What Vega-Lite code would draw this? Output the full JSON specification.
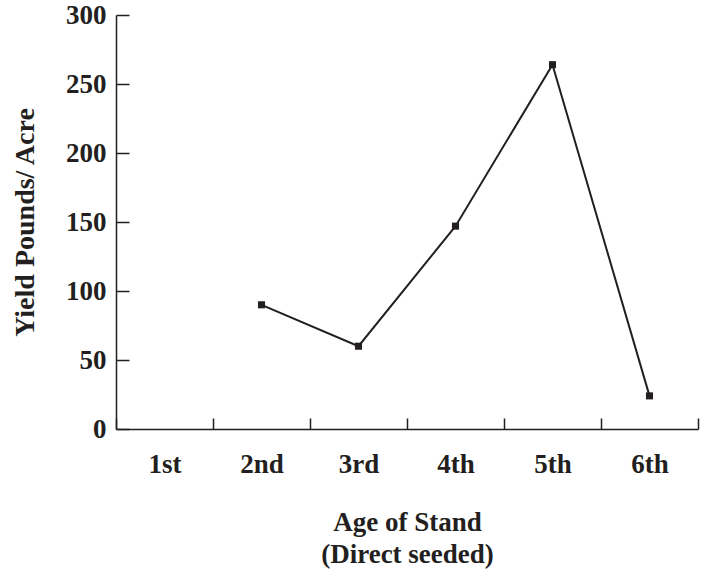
{
  "$schema": "https://vega.github.io/schema/vega-lite/v6.json",
  "description": "Yield by age of stand (direct seeded).",
  "autosize": {"type": "none"},
  "padding": {"left": 116, "top": 15, "right": 13, "bottom": 151},
  "width": 582,
  "height": 414,
  "background": "white",
  "config": {
    "view": {"stroke": null},
    "font": "Liberation Serif",
    "axis": {
      "grid": false,
      "domainColor": "#231f20",
      "domainWidth": 1.5,
      "tickColor": "#231f20",
      "tickWidth": 1.5,
      "labelColor": "#231f20",
      "labelFont": "Liberation Serif",
      "labelFontWeight": "bold",
      "labelFontSize": 27,
      "titleColor": "#231f20",
      "titleFont": "Liberation Serif",
      "titleFontWeight": "bold",
      "titleFontSize": 27
    }
  },
  "data": {
    "values": [
      {"age": "2nd", "yield": 90},
      {"age": "3rd", "yield": 60},
      {"age": "4th", "yield": 147},
      {"age": "5th", "yield": 264},
      {"age": "6th", "yield": 24}
    ]
  },
  "mark": {
    "type": "line",
    "color": "#231f20",
    "strokeWidth": 2,
    "point": {"shape": "square", "size": 50, "filled": true, "color": "#231f20", "opacity": 1}
  },
  "encoding": {
    "x": {
      "field": "age",
      "type": "ordinal",
      "sort": null,
      "scale": {
        "type": "band",
        "domain": ["1st", "2nd", "3rd", "4th", "5th", "6th"],
        "paddingInner": 0,
        "paddingOuter": 0
      },
      "axis": {
        "title": ["Age of Stand", "(Direct seeded)"],
        "titleLineHeight": 32,
        "titleBaseline": "alphabetic",
        "titleY": 101,
        "labelAngle": 0,
        "labelBaseline": "alphabetic",
        "tickBand": "extent",
        "tickSize": -11,
        "labelPadding": 54
      }
    },
    "y": {
      "field": "yield",
      "type": "quantitative",
      "scale": {"domain": [0, 300], "nice": false},
      "axis": {
        "title": "Yield Pounds/ Acre",
        "titleFontSize": 28,
        "titleAngle": -90,
        "titleBaseline": "alphabetic",
        "titleX": -83,
        "titleY": 207,
        "values": [0, 50, 100, 150, 200, 250, 300],
        "tickSize": -13,
        "labelPadding": 23
      }
    }
  }
}
